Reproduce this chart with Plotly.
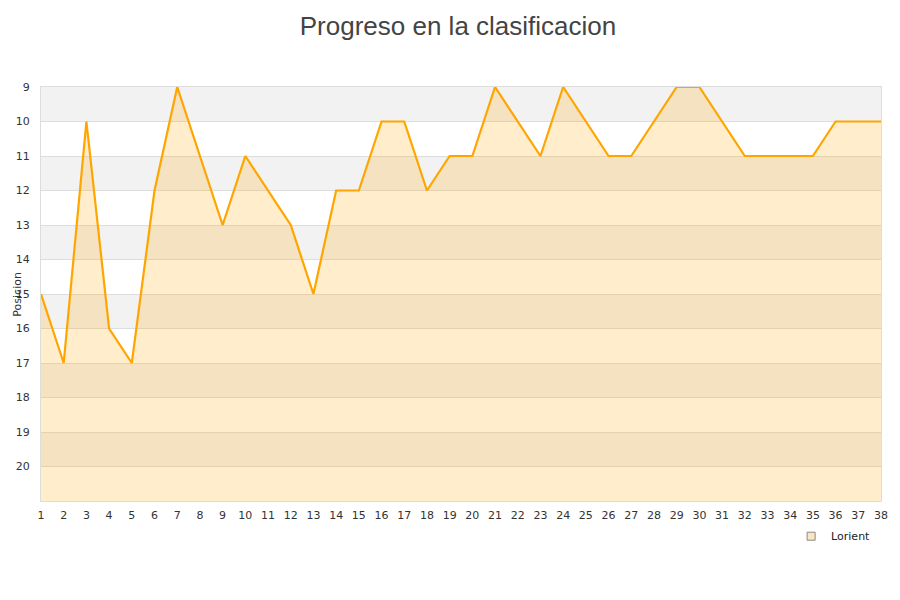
import plotly.graph_objects as go

# Matchdays and league position of Lorient
jornadas = list(range(1, 39))
posicion = [15, 17, 10, 16, 17, 12, 9, 11, 13, 11,
            12, 13, 15, 12, 12, 10, 10, 12, 11, 11,
            9, 10, 11, 9, 10, 11, 11, 10, 9, 9,
            10, 11, 11, 11, 11, 10, 10, 10]
equipo = 'Lorient'

y_top = 9
y_bottom = 21

figure = go.Figure()

# baseline at the bottom of the axis, used to fill under the line
figure.add_trace(go.Scatter(
    x=jornadas,
    y=[y_bottom] * len(jornadas),
    mode='lines',
    line=dict(width=0),
    showlegend=False,
    hoverinfo='skip',
))
figure.add_trace(go.Scatter(
    x=jornadas,
    y=posicion,
    name=equipo,
    mode='lines',
    line=dict(color='#ffa500', width=2.2),
    fill='tonexty',
    fillcolor='rgba(255,165,0,0.2)',
    showlegend=False,
))
# legend entry only
figure.add_trace(go.Scatter(
    x=[None],
    y=[None],
    name=equipo,
    mode='markers',
    marker=dict(symbol='square', size=8, color='#fbe6c2',
                line=dict(color='#888888', width=1)),
))

# alternating grey bands
for y0 in range(y_top, y_bottom, 2):
    figure.add_shape(
        type='rect', xref='paper', yref='y',
        x0=0, x1=1, y0=y0, y1=y0 + 1,
        fillcolor='#f2f2f2', line=dict(width=0), layer='below',
    )

# y axis title as annotation so it sits left of the tick labels
figure.add_annotation(
    text='Posicion', textangle=-90,
    xref='paper', yref='paper', x=-0.029, y=0.5,
    xanchor='center', yanchor='middle', showarrow=False,
    font=dict(size=11, color='#333333'),
)

figure.update_layout(
    width=900,
    height=600,
    # page body adds ~7px offset, so margins are compensated
    margin=dict(l=33, r=27, t=79, b=107, autoexpand=False),
    title=dict(
        text='Progreso en la clasificacion',
        x=0.5, xanchor='center', y=0.985, yanchor='top',
        pad=dict(t=0, b=0),
        font=dict(family='Liberation Sans', size=26, color='#444444'),
    ),
    font=dict(family='DejaVu Sans', size=11, color='#333333'),
    plot_bgcolor='white',
    paper_bgcolor='white',
    legend=dict(
        x=0.993, y=-0.05, xanchor='right', yanchor='top',
        font=dict(size=11, color='#222222'),
        bgcolor='rgba(0,0,0,0)',
    ),
    hovermode='x',
)

figure.update_xaxes(
    range=[1, 38],
    tickmode='linear',
    tick0=1,
    dtick=1,
    automargin=False,
    showgrid=False,
    zeroline=False,
    showline=True,
    mirror=True,
    linecolor='#dddddd',
    linewidth=1,
    ticks='',
    ticklabelstandoff=4,
    tickfont=dict(size=11, color='#333333'),
)
figure.update_yaxes(
    range=[y_bottom, y_top],
    tickmode='array',
    tickvals=list(range(9, 21)),
    automargin=False,
    showgrid=True,
    gridcolor='#dddddd',
    zeroline=False,
    showline=True,
    mirror=True,
    linecolor='#dddddd',
    linewidth=1,
    ticks='',
    ticklabelstandoff=8,
    tickfont=dict(size=11, color='#333333'),
)

figure.write_html("out.html")
